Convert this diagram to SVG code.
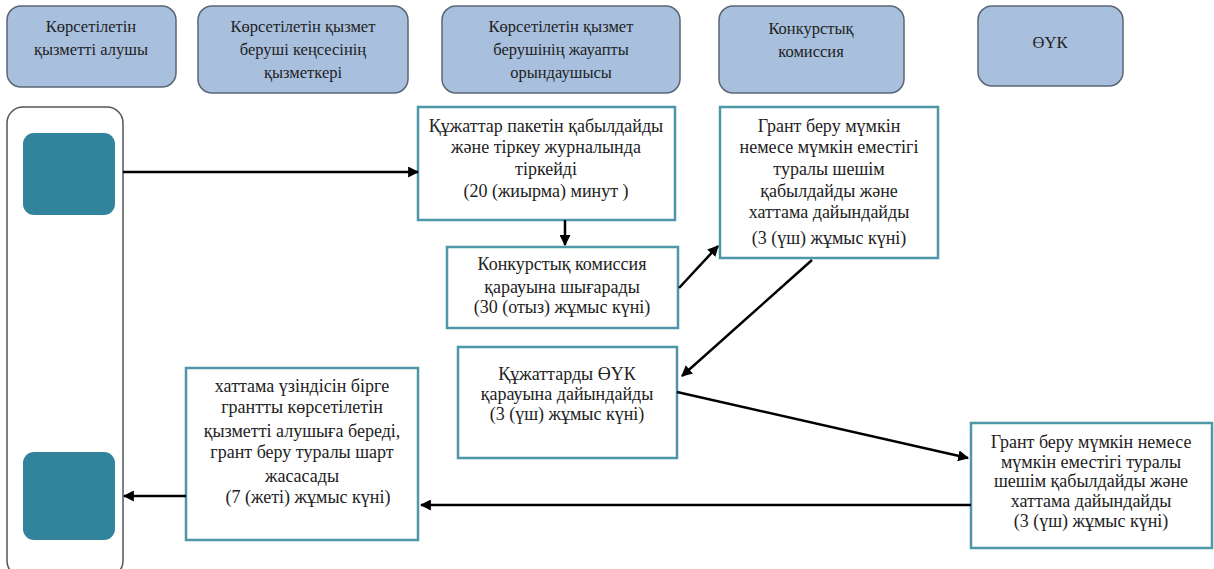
<svg xmlns="http://www.w3.org/2000/svg" width="1214" height="569" viewBox="0 0 1214 569">
<defs>
<marker id="ah" viewBox="0 0 10 10" refX="9" refY="5" markerWidth="4.4" markerHeight="4.4" orient="auto" markerUnits="strokeWidth">
<path d="M0,0 L10,5 L0,10 z" fill="#000"/>
</marker>
<style>
.hdr{fill:#a8c0de;stroke:#5b6675;stroke-width:1.5}
.box{fill:#fff;stroke:#4e97a8;stroke-width:2.5}
.sq{fill:#31849b}
.lane{fill:#fff;stroke:#555;stroke-width:1.5}
.con{stroke:#000;stroke-width:2.5;fill:none;marker-end:url(#ah)}
.t{font-family:'Liberation Serif','Times New Roman',serif;font-size:18px;fill:#222;text-anchor:middle}
.th{font-family:'Liberation Serif','Times New Roman',serif;font-size:16.5px;fill:#222;text-anchor:middle}
</style>
</defs>
<rect width="1214" height="569" fill="#fff"/>
<g class="th">
<g id="h1"><rect class="hdr" x="7" y="6" width="169" height="81" rx="14"/>
<text x="91" y="32">Көрсетілетін</text><text x="91" y="55">қызметті алушы</text></g>
<g id="h2"><rect class="hdr" x="198" y="6" width="210" height="87" rx="14"/>
<text x="303" y="32">Көрсетілетін қызмет</text><text x="303" y="55">беруші кеңсесінің</text><text x="303" y="78">қызметкері</text></g>
<g id="h3"><rect class="hdr" x="442" y="6" width="238" height="87" rx="14"/>
<text x="561" y="32">Көрсетілетін қызмет</text><text x="561" y="55">берушінің жауапты</text><text x="561" y="78">орындаушысы</text></g>
<g id="h4"><rect class="hdr" x="719" y="6" width="185" height="87" rx="14"/>
<text x="811" y="34">Конкурстық</text><text x="811" y="57">комиссия</text></g>
<g id="h5"><rect class="hdr" x="978" y="6" width="145" height="80" rx="14"/>
<text x="1050" y="48">ӨҮК</text></g>
</g>
<g class="t">
<g id="lane"><rect class="lane" x="7" y="107" width="116" height="470" rx="16"/>
<rect class="sq" x="23" y="133" width="92" height="82" rx="11"/>
<rect class="sq" x="23" y="452" width="92" height="88" rx="11"/></g>
<g id="nA"><rect class="box" x="418" y="107" width="257" height="113"/>
<text x="546" y="132">Құжаттар пакетін қабылдайды</text><text x="546" y="153">және тіркеу журналында</text><text x="546" y="175">тіркейді</text><text x="546" y="197">(20 (жиырма) минут )</text></g>
<g id="nB"><rect class="box" x="447" y="247" width="231" height="81"/>
<text x="562" y="270">Конкурстық комиссия</text><text x="562" y="293">қарауына шығарады</text><text x="562" y="313">(30 (отыз) жұмыс күні)</text></g>
<g id="nC"><rect class="box" x="720" y="107" width="218" height="151"/>
<text x="829" y="132">Грант беру мүмкін</text><text x="829" y="153">немесе мүмкін еместігі</text><text x="829" y="175">туралы шешім</text><text x="829" y="197">қабылдайды және</text><text x="829" y="218">хаттама дайындайды</text><text x="829" y="244">(3 (үш) жұмыс күні)</text></g>
<g id="nD"><rect class="box" x="458" y="347" width="219" height="111"/>
<text x="567" y="380">Құжаттарды ӨҮК</text><text x="567" y="400">қарауына дайындайды</text><text x="567" y="420">(3 (үш) жұмыс күні)</text></g>
<g id="nE"><rect class="box" x="971" y="423" width="241" height="125"/>
<text x="1091" y="448">Грант беру мүмкін немесе</text><text x="1091" y="468">мүмкін еместігі туралы</text><text x="1091" y="487">шешім қабылдайды және</text><text x="1091" y="507">хаттама дайындайды</text><text x="1091" y="527">(3 (үш) жұмыс күні)</text></g>
<g id="nF"><rect class="box" x="186" y="368" width="232" height="172"/>
<text x="302" y="392">хаттама үзіндісін бірге</text><text x="302" y="413">грантты көрсетілетін</text><text x="302" y="437">қызметті алушыға береді,</text><text x="302" y="458">грант беру туралы шарт</text><text x="302" y="482">жасасады</text><text x="308" y="503">(7 (жеті) жұмыс күні)</text></g>
</g>
<g id="connectors">
<line class="con" x1="123" y1="172" x2="418" y2="172"/>
<line class="con" x1="565" y1="220" x2="565" y2="245"/>
<line class="con" x1="679" y1="288" x2="718" y2="246"/>
<line class="con" x1="812" y1="260" x2="682" y2="376"/>
<line class="con" x1="677" y1="392" x2="968" y2="458"/>
<line class="con" x1="971" y1="505" x2="421" y2="505"/>
<line class="con" x1="186" y1="496" x2="124" y2="496"/>
</g>
</svg>
